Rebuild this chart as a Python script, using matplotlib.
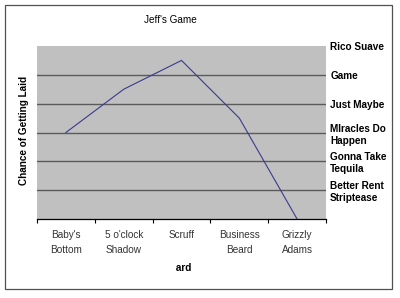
import matplotlib
matplotlib.use("Agg")
import matplotlib.pyplot as plt
from matplotlib.patches import Rectangle
from matplotlib.transforms import Bbox

categories = ["Baby's\nBottom", "5 o'clock\nShadow", "Scruff", "Business\nBeard", "Grizzly\nAdams"]
values = [3.0, 4.5, 5.5, 3.5, 0.0]
level_values = [6, 5, 4, 3, 2, 1]
level_labels = ["Rico Suave", "Game", "Just Maybe", "MIracles Do\nHappen",
                "Gonna Take\nTequila", "Better Rent\nStriptease"]

plt.rcParams['font.family'] = ['Liberation Sans', 'DejaVu Sans']

W, H = 400, 298
fig = plt.figure(figsize=(W / 100, H / 100), dpi=100)
fig.patch.set_facecolor("white")

# outer frame
fig.patches.append(Rectangle((5 / W, 1 - 289 / H), (392 - 5) / W, (289 - 5) / H,
                             transform=fig.transFigure, fill=False,
                             edgecolor="#505050", linewidth=0.9))

ax = fig.add_axes([37 / W, 1 - 219 / H, (326 - 37) / W, (219 - 46) / H])
ax.set_facecolor("#c0c0c0")
x = list(range(len(categories)))
ax.plot(x, values, color="#3a3a90", linewidth=0.8)
ax.set_xlim(-0.5, len(categories) - 0.5)
ax.set_ylim(0, 6)

for v in level_values[1:]:
    ax.axhline(v, color="#5a5a5a", linewidth=1.0, zorder=0.5)

for s in ["top", "right", "left"]:
    ax.spines[s].set_visible(False)
ax.spines["bottom"].set_color("black")
ax.spines["bottom"].set_linewidth(0.9)

ax.set_xticks(x)
ax.set_xticklabels(categories, fontsize=7.2, color="#333333", linespacing=1.6)
ax.tick_params(axis="x", which="major", length=0, pad=8)
ax.set_xticks([i - 0.5 for i in range(len(categories) + 1)], minor=True)
ax.tick_params(axis="x", which="minor", length=3, width=0.8, color="black", direction="out")

ax.yaxis.tick_right()
ax.set_yticks(level_values)
ax.set_yticklabels(level_labels, fontsize=7.2, fontweight="bold", linespacing=1.25)
ax.tick_params(axis="y", length=0, pad=3)

fig.text(24 / W, 1 - 130 / H, "Chance of Getting Laid", rotation=90,
         ha="center", va="center", fontsize=7.2, fontweight="bold")
fig.text(170 / W, 1 - 20 / H, "Jeff's Game", ha="center", va="center", fontsize=7.2)

t = fig.text(178 / W, 1 - 268 / H, "Beard", ha="center", va="center",
             fontsize=7.2, fontweight="bold")
t.set_clip_box(Bbox.from_extents(175.5, 0, 400, 298))
t.set_clip_on(True)

fig.savefig("out.png", dpi=100)
